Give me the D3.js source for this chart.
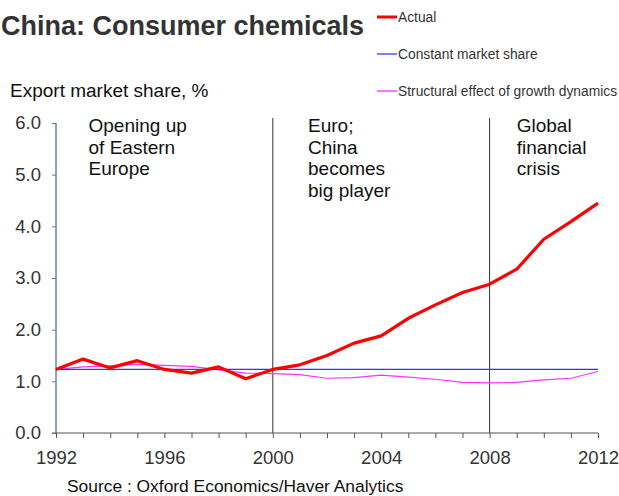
<!DOCTYPE html>
<html>
<head>
<meta charset="utf-8">
<script src="https://cdn.jsdelivr.net/npm/d3@7"></script>
<style>
  body { margin: 0; background: #fff; }
  text { font-family: "Liberation Sans", Arial, sans-serif; }
</style>
</head>
<body>
<div id="chart"></div>
<script>
const years = d3.range(1992, 2013);
const actual = [1.23, 1.43, 1.26, 1.40, 1.23, 1.16, 1.28, 1.05, 1.23, 1.32, 1.50, 1.74, 1.88, 2.22, 2.48, 2.72, 2.88, 3.17, 3.75, 4.09, 4.45];
const constantShare = [1.23, 1.23, 1.23, 1.23, 1.23, 1.23, 1.23, 1.23, 1.23, 1.23, 1.23, 1.23, 1.23, 1.23, 1.23, 1.23, 1.23, 1.23, 1.23, 1.23, 1.23];
const structural = [1.23, 1.28, 1.30, 1.33, 1.31, 1.29, 1.22, 1.16, 1.15, 1.13, 1.06, 1.07, 1.12, 1.08, 1.04, 0.98, 0.97, 0.98, 1.03, 1.06, 1.19];
const yTicks = [0, 1, 2, 3, 4, 5, 6];
const xLabelYears = [1992, 1996, 2000, 2004, 2008, 2012];
const eventYears = [2000, 2008];
const eventNotes = [
    { year: 1993.2, lines: ["Opening up", "of Eastern", "Europe"] },
    { year: 2001.3, lines: ["Euro;", "China", "becomes", "big player"] },
    { year: 2009.0, lines: ["Global", "financial", "crisis"] }
];
const seriesNames = ["Actual", "Constant market share", "Structural effect of growth dynamics"];

const width = 619, height = 496;
const margin = { top: 123, right: 21, bottom: 63, left: 56 };
const innerW = width - margin.left - margin.right;
const innerH = height - margin.top - margin.bottom;

const svg = d3.select("#chart")
    .append("svg")
    .attr("width", width)
    .attr("height", height);

const g = svg.append("g")
    .attr("transform", `translate(${margin.left}, ${margin.top})`);

const x = d3.scaleLinear().domain([1992, 2012]).range([0, innerW]);
const y = d3.scaleLinear().domain([0, 6]).range([innerH, 0]);

// event markers
g.selectAll(".event")
    .data(eventYears)
    .enter()
    .append("line")
    .attr("x1", d => x(d)).attr("x2", d => x(d))
    .attr("y1", -5).attr("y2", innerH)
    .attr("stroke", "#333")
    .attr("stroke-width", 1);

// x axis
let xAxis = g.append("g")
    .attr("transform", `translate(0, ${innerH})`)
    .call(d3.axisBottom(x).tickValues(years).tickSize(5).tickFormat(d => xLabelYears.includes(d) ? d : ""));
xAxis.select(".domain").attr("stroke", "#555").attr("d", `M-4,0H${innerW}`);
xAxis.selectAll(".tick line").attr("stroke", "#555");
xAxis.selectAll("text")
    .attr("y", 18)
    .attr("dy", "0.71em")
    .style("font-size", "18.5px")
    .attr("fill", "#333");

// y axis
let yAxis = g.append("g")
    .call(d3.axisLeft(y).tickValues(yTicks).tickSize(4).tickFormat(d3.format(".1f")));
yAxis.select(".domain").attr("stroke", "#1b4a6b").attr("d", `M0,0V${innerH}`);
yAxis.selectAll(".tick line").attr("stroke", "#5b7f99");
yAxis.selectAll("text")
    .attr("x", -15)
    .style("font-size", "18.5px")
    .attr("fill", "#333");

// series
let line = vals => d3.line()
    .x((d, i) => x(years[i]))
    .y(d => y(d))(vals);

g.append("path").attr("d", line(structural))
    .attr("fill", "none").attr("stroke", "#ff33ff").attr("stroke-width", 1.2);
g.append("path").attr("d", line(constantShare))
    .attr("fill", "none").attr("stroke", "#3333ff").attr("stroke-width", 1.2);
g.append("path").attr("d", line(actual))
    .attr("fill", "none").attr("stroke", "#ff0000").attr("stroke-width", 3.2)
    .attr("stroke-linejoin", "round");

// annotations
eventNotes.forEach(n => {
    g.append("text")
        .attr("x", x(n.year))
        .attr("y", 9)
        .style("font-size", "19px")
        .attr("fill", "#111")
        .selectAll("tspan")
        .data(n.lines)
        .enter()
        .append("tspan")
        .attr("x", x(n.year))
        .attr("dy", (d, i) => i === 0 ? 0 : 21.5)
        .text(d => d);
});

// title
svg.append("text")
    .attr("x", 1).attr("y", 35)
    .style("font-size", "27px")
    .style("font-weight", "bold")
    .attr("fill", "#333")
    .text("China: Consumer chemicals");

svg.append("text")
    .attr("x", 10).attr("y", 97)
    .style("font-size", "19px")
    .attr("fill", "#111")
    .text("Export market share, %");

// legend
const legendStyle = [
    { color: "#ff0000", w: 3, y: 17 },
    { color: "#5555ff", w: 1.5, y: 54 },
    { color: "#ff77ff", w: 2, y: 91 }
];
seriesNames.forEach((name, i) => {
    svg.append("line")
        .attr("x1", 377).attr("x2", 397)
        .attr("y1", legendStyle[i].y).attr("y2", legendStyle[i].y)
        .attr("stroke", legendStyle[i].color)
        .attr("stroke-width", legendStyle[i].w);
    svg.append("text")
        .attr("x", 398).attr("y", legendStyle[i].y + 5)
        .style("font-size", "13.8px")
        .attr("fill", "#333")
        .text(name);
});

svg.append("text")
    .attr("x", 67).attr("y", 492)
    .style("font-size", "17.4px")
    .attr("fill", "#111")
    .text("Source : Oxford Economics/Haver Analytics");
</script>
</body>
</html>
